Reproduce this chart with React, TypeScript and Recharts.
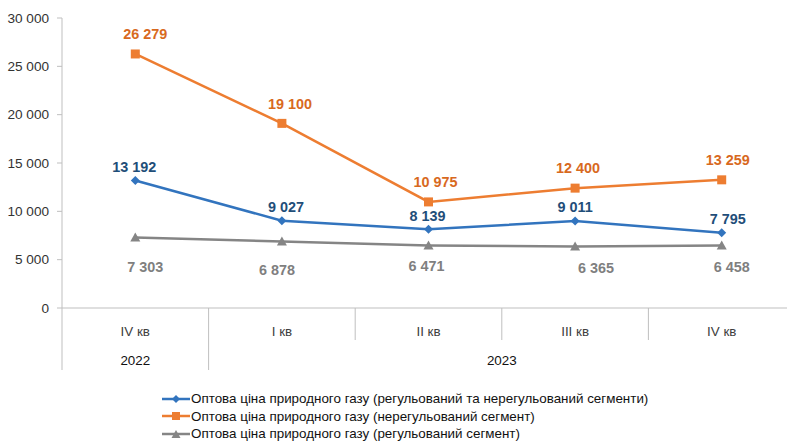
import React from 'react';
import { LineChart, Line, XAxis, YAxis, LabelList } from 'recharts';

const quarters = ['IV кв', 'I кв', 'II кв', 'III кв', 'IV кв'];
const years = ['2022', '2023'];
const totalPrice = [13192, 9027, 8139, 9011, 7795];
const unregulatedPrice = [26279, 19100, 10975, 12400, 13259];
const regulatedPrice = [7303, 6878, 6471, 6365, 6458];
const yTicks = [0, 5000, 10000, 15000, 20000, 25000, 30000];

const seriesNames = [
  'Оптова ціна природного газу (регульований та нерегульований сегменти)',
  'Оптова ціна природного газу (нерегульований сегмент)',
  'Оптова ціна природного газу (регульований сегмент)',
];

const data = quarters.map((q, i) => ({
  q: q + '#' + i,
  label: q,
  total: totalPrice[i],
  unreg: unregulatedPrice[i],
  reg: regulatedPrice[i],
}));

const CHART_W = 800;
const Y_W = 62;
const MARGIN_R = 5;
const BAND = (CHART_W - Y_W - MARGIN_R) / quarters.length;
const AXIS_Y = 308;
const FONT = '"Liberation Sans", Arial, sans-serif';
const GRID = '#BFBFBF';

const BLUE = '#3274BE';
const ORANGE = '#ED7D31';
const GRAY = '#858585';
const BLUE_L = '#1F4E79';
const ORANGE_L = '#D8691E';
const GRAY_L = '#7F7F7F';

const fmt = (v: number) => String(v).replace(/\B(?=(\d{3})+(?!\d))/g, ' ');

// label nudges (style only)
const orangeDx = [10, 8, 7, 3, 6];
const blueDx = [-1, 4, -1, 0, 6];
const grayDx = [10, -5, -2, 21, 10];
const grayDy = [29, 28, 20, 21, 21];

const YTick = (props: any) => {
  const { x, y, payload } = props;
  return (
    <text x={x} y={y} dy={4.8} textAnchor="end" fill="#333" fontSize={13.6} fontFamily={FONT}>
      {fmt(payload.value)}
    </text>
  );
};

const XTick = (props: any) => {
  const { x, payload, index } = props;
  const i = payload.index ?? index;
  const label = quarters[i];
  const els: any[] = [];
  els.push(
    <text key="t" x={x} y={AXIS_Y + 28} textAnchor="middle" fill="#404040" fontSize={13.4} fontFamily={FONT}>
      {label}
    </text>
  );
  if (i < quarters.length - 1) {
    els.push(
      <line key="s" x1={x + BAND / 2} x2={x + BAND / 2} y1={AXIS_Y} y2={i === 0 ? AXIS_Y + 62 : AXIS_Y + 32} stroke={GRID} strokeWidth={1} />
    );
  }
  if (i === 0) {
    els.push(<line key="a" x1={x - BAND / 2} x2={x - BAND / 2} y1={AXIS_Y} y2={AXIS_Y + 62} stroke={GRID} strokeWidth={1} />);
    els.push(
      <text key="y" x={x} y={AXIS_Y + 57} textAnchor="middle" fill="#111" fontSize={13.4} fontFamily={FONT}>
        {years[0]}
      </text>
    );
  }
  if (i === 1) {
    els.push(
      <text key="y" x={x + 1.5 * BAND} y={AXIS_Y + 57} textAnchor="middle" fill="#111" fontSize={13.4} fontFamily={FONT}>
        {years[1]}
      </text>
    );
  }
  return <g>{els}</g>;
};

const Diamond = (props: any) => {
  const { cx, cy } = props;
  if (cx == null || cy == null) return <g />;
  const s = 4.5;
  return <path d={`M${cx},${cy - s}L${cx + s},${cy}L${cx},${cy + s}L${cx - s},${cy}Z`} fill={BLUE} />;
};
const Square = (props: any) => {
  const { cx, cy } = props;
  if (cx == null || cy == null) return <g />;
  return <rect x={cx - 4.5} y={cy - 4.5} width={9} height={9} fill={ORANGE} />;
};
const Triangle = (props: any) => {
  const { cx, cy } = props;
  if (cx == null || cy == null) return <g />;
  return <path d={`M${cx},${cy - 5}L${cx + 5},${cy + 4}L${cx - 5},${cy + 4}Z`} fill={GRAY} />;
};

const makeLabel = (color: string, dxArr: number[], dyArr: number[] | number) => (props: any) => {
  const { x, y, value, index } = props;
  const dy = Array.isArray(dyArr) ? dyArr[index] : dyArr;
  return (
    <text x={x + dxArr[index]} y={y + dy} dy={5.2} textAnchor="middle" fill={color} fontSize={14.4} fontWeight="bold" fontFamily={FONT}>
      {fmt(value)}
    </text>
  );
};

const LegendIcon = ({ color, kind }: { color: string; kind: string }) => (
  <svg width={28} height={10} style={{ display: 'block' }}>
    <line x1={0} x2={28} y1={5} y2={5} stroke={color} strokeWidth={2.5} />
    {kind === 'd' && <path d="M14,1L18,5L14,9L10,5Z" fill={color} />}
    {kind === 's' && <rect x={10} y={1} width={8} height={8} fill={color} />}
    {kind === 't' && <path d="M14,1L18.5,9L9.5,9Z" fill={color} />}
  </svg>
);

export default function App() {
  const legendItems = [
    { name: seriesNames[0], color: BLUE, kind: 'd' },
    { name: seriesNames[1], color: ORANGE, kind: 's' },
    { name: seriesNames[2], color: GRAY, kind: 't' },
  ];
  return (
    <div style={{ position: 'absolute', left: 0, top: 0, width: 787, height: 446, overflow: 'hidden', background: '#fff' }}>
      <LineChart width={CHART_W} height={446} data={data} margin={{ top: 18, right: MARGIN_R, bottom: 78, left: 0 }}>
        <XAxis
          dataKey="q"
          padding={{ left: BAND / 2, right: BAND / 2 }}
          axisLine={{ stroke: GRID }}
          tickLine={false}
          height={60}
          tick={<XTick />}
          interval={0}
        />
        <YAxis
          width={Y_W}
          domain={[0, 30000]}
          ticks={yTicks}
          axisLine={{ stroke: GRID }}
          tickLine={{ stroke: GRID }}
          tickSize={5}
          tickMargin={8}
          tick={<YTick />}
          interval={0}
        />
        <Line dataKey="reg" stroke={GRAY} strokeWidth={2.5} dot={<Triangle />} activeDot={false} isAnimationActive={false}>
          <LabelList dataKey="reg" content={makeLabel(GRAY_L, grayDx, grayDy)} />
        </Line>
        <Line dataKey="total" stroke={BLUE} strokeWidth={2.5} dot={<Diamond />} activeDot={false} isAnimationActive={false}>
          <LabelList dataKey="total" content={makeLabel(BLUE_L, blueDx, -14)} />
        </Line>
        <Line dataKey="unreg" stroke={ORANGE} strokeWidth={2.5} dot={<Square />} activeDot={false} isAnimationActive={false}>
          <LabelList dataKey="unreg" content={makeLabel(ORANGE_L, orangeDx, -20)} />
        </Line>
      </LineChart>
      <div style={{ position: 'absolute', left: 162, top: 390, fontFamily: FONT, fontSize: 13.4, color: '#111' }}>
        {legendItems.map((it) => (
          <div key={it.name} style={{ display: 'flex', alignItems: 'center', height: 17.5, whiteSpace: 'nowrap' }}>
            <LegendIcon color={it.color} kind={it.kind} />
            <span style={{ marginLeft: 1 }}>{it.name}</span>
          </div>
        ))}
      </div>
    </div>
  );
}
